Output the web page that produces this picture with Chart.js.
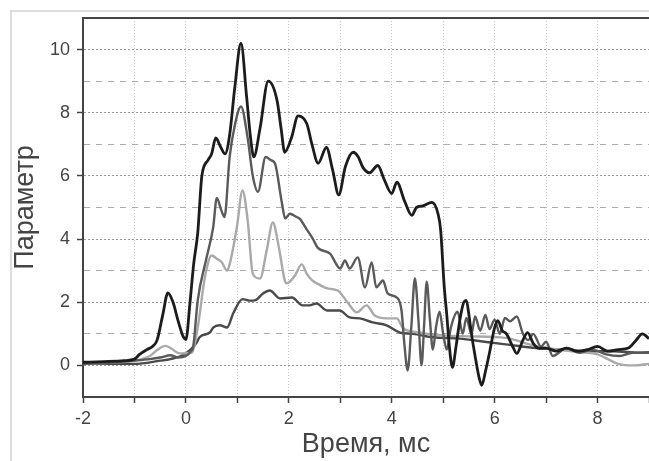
<!DOCTYPE html>
<html>
<head>
<meta charset="utf-8">
<script src="https://cdn.jsdelivr.net/npm/chart.js@4.4.1/dist/chart.umd.min.js"></script>
<style>
    html, body { margin: 0; padding: 0; background: #fff; overflow: hidden; }
    #wrap { position: relative; width: 649px; height: 461px; }
    #frame { position: absolute; left: 10px; top: 10px; width: 639px; height: 451px; box-sizing: border-box;
             border-left: 2px solid #dcdcdc; border-top: 2px solid #dcdcdc; pointer-events: none; }
</style>
</head>
<body>
<div id="wrap">
    <canvas id="signalChart" width="649" height="461"></canvas>
    <div id="frame"></div>
</div>
<script>
// Кривая 1 (чёрная)
const blackX = [-2, -1.6, -1.2, -1.0, -0.9, -0.76, -0.65, -0.56, -0.45, -0.35, -0.25, -0.15, -0.05, 0.0, 0.08, 0.15, 0.23, 0.31, 0.43, 0.5,
    0.58, 0.68, 0.76, 0.85, 0.95, 1.07, 1.18, 1.25, 1.32, 1.44, 1.6, 1.77, 1.85, 1.92, 2.05, 2.18, 2.35, 2.45, 2.57, 2.73,
    2.85, 2.97, 3.1, 3.25, 3.35, 3.44, 3.57, 3.73, 3.85, 4.0, 4.1, 4.25, 4.39, 4.48, 4.6, 4.78, 4.9, 4.95, 5.02, 5.07,
    5.12, 5.18, 5.25, 5.32, 5.4, 5.45, 5.5, 5.55, 5.62, 5.7, 5.75, 5.82, 5.9, 6.0, 6.06, 6.15, 6.23, 6.35, 6.43, 6.55,
    6.64, 6.75, 6.87, 7.0, 7.2, 7.4, 7.6, 7.8, 8.0, 8.2, 8.4, 8.6, 8.75, 8.87, 9.0];
const blackY = [0.1, 0.12, 0.15, 0.2, 0.35, 0.5, 0.6, 0.8, 1.6, 2.3, 2.0, 1.4, 0.9, 0.82, 2.0, 3.2, 4.2, 6.0, 6.5, 6.7,
    7.2, 6.9, 6.7, 7.3, 8.8, 10.2, 8.5, 7.3, 6.6, 7.5, 9.0, 8.4, 7.5, 6.75, 7.2, 7.9, 7.65, 7.0, 6.4, 6.9,
    6.2, 5.4, 6.3, 6.75, 6.6, 6.27, 6.1, 6.33, 5.9, 5.44, 5.8, 5.2, 4.75, 5.0, 5.05, 5.16, 4.8, 4.3, 2.5, 1.6,
    0.6, -0.06, 0.6, 1.4, 2.0, 2.06, 1.6, 1.0, 0.3, -0.4, -0.63, -0.2, 0.4, 1.2, 1.42, 1.1, 1.0, 0.6, 0.38, 0.8,
    1.04, 0.7, 0.54, 0.55, 0.45, 0.55, 0.45, 0.5, 0.6, 0.45, 0.5, 0.55, 0.8, 1.0, 0.85];

// Кривая 2 (тёмно-серая)
const grayX = [-2, -1.5, -1.0, -0.7, -0.5, -0.3, -0.15, 0.0, 0.1, 0.14, 0.23, 0.4, 0.53, 0.6, 0.69, 0.75, 0.85, 0.95, 1.07, 1.2,
    1.3, 1.4, 1.55, 1.65, 1.73, 1.86, 1.93, 2.02, 2.15, 2.21, 2.35, 2.47, 2.56, 2.8, 3.0, 3.09, 3.18, 3.34, 3.48, 3.61,
    3.7, 3.83, 3.92, 4.1, 4.19, 4.25, 4.31, 4.38, 4.45, 4.52, 4.58, 4.63, 4.68, 4.74, 4.8, 4.86, 4.93, 5.0, 5.07, 5.15,
    5.28, 5.38, 5.45, 5.55, 5.62, 5.72, 5.82, 5.9, 6.0, 6.1, 6.2, 6.3, 6.43, 6.55, 6.65, 6.75, 6.9, 7.0, 7.13, 7.4,
    7.65, 7.9, 8.17, 8.43, 8.68, 9.0];
const grayY = [0.05, 0.08, 0.15, 0.2, 0.25, 0.32, 0.25, 0.3, 0.45, 0.57, 2.06, 3.4, 4.37, 5.3, 4.9, 4.7, 6.6, 7.6, 8.2, 7.2,
    6.0, 5.5, 6.6, 6.5, 6.4, 5.2, 4.65, 4.8, 4.7, 4.65, 4.3, 4.0, 3.73, 3.54, 3.07, 3.32, 3.07, 3.42, 2.47, 3.26,
    2.47, 2.69, 2.28, 2.15, 1.74, 0.6, -0.16, 1.2, 2.75, 1.4, 0.0, 1.3, 2.65, 1.5, 0.5, 1.2, 1.7, 1.0, 0.5, 1.2,
    1.7, 1.0, 1.5, 1.0, 1.55, 1.1, 1.6, 1.15, 1.45, 1.0, 1.5, 1.4, 1.55, 1.0, 0.8, 1.0, 0.6, 0.75, 0.3, 0.55,
    0.4, 0.5, 0.35, 0.3, 0.4, 0.4];

// Кривая 3 (светло-серая)
const lightX = [-2, -1.5, -1.0, -0.7, -0.55, -0.4, -0.3, -0.12, 0.12, 0.23, 0.37, 0.5, 0.6, 0.7, 0.8, 0.85, 0.99, 1.1, 1.2, 1.3,
    1.44, 1.57, 1.69, 1.8, 1.92, 1.96, 2.12, 2.25, 2.35, 2.45, 2.6, 2.74, 2.95, 3.14, 3.32, 3.51, 3.67, 3.9, 4.1, 4.21,
    4.5, 5.0, 5.5, 6.0, 6.3, 6.6, 7.0, 7.5, 8.0, 8.2, 8.4, 8.7, 9.0];
const lightY = [0.05, 0.08, 0.15, 0.3, 0.5, 0.62, 0.55, 0.38, 0.41, 1.2, 2.8, 3.48, 3.38, 3.26, 3.0, 3.2, 4.37, 5.54, 4.6, 2.9,
    2.75, 3.64, 4.53, 3.8, 2.7, 2.6, 2.85, 3.2, 2.9, 2.7, 2.55, 2.44, 2.37, 2.0, 1.68, 1.9, 1.58, 1.49, 1.49, 1.2,
    1.05, 0.95, 0.92, 0.9, 0.85, 0.7, 0.55, 0.45, 0.35, 0.2, 0.05, 0.0, 0.05];

// Кривая 4 (нижняя)
const lowX = [-2, -1.5, -1.0, -0.5, -0.3, 0.0, 0.2, 0.27, 0.47, 0.53, 0.66, 0.8, 0.92, 1.1, 1.24, 1.34, 1.5, 1.63, 1.83, 2.06,
    2.27, 2.4, 2.54, 2.74, 2.99, 3.18, 3.38, 3.63, 3.9, 4.16, 4.41, 4.8, 5.32, 5.8, 6.3, 6.8, 7.3, 7.8, 8.3, 8.8, 9.0];
const lowY = [0.08, 0.05, 0.05, 0.15, 0.2, 0.38, 0.7, 0.9, 1.05, 1.2, 1.27, 1.2, 1.65, 2.1, 2.05, 2.06, 2.28, 2.37, 2.12, 2.15,
    1.9, 1.9, 1.96, 1.74, 1.74, 1.52, 1.49, 1.36, 1.27, 1.04, 1.0, 0.89, 0.85, 0.75, 0.65, 0.55, 0.5, 0.45, 0.45, 0.4, 0.42];

const xLimits = [-2, 9];
const yLimits = [-1, 11];

const fontFamily = '"Liberation Sans", Arial, sans-serif';

function toPoints(xs, ys) {
    return xs.map((x, i) => ({ x: x, y: ys[i] }));
}

const ctx = document.getElementById('signalChart');

new Chart(ctx, {
    type: 'line',
    data: {
        datasets: [
            { data: toPoints(blackX, blackY), borderColor: '#1c1c1c', borderWidth: 2.8 },
            { data: toPoints(grayX, grayY), borderColor: '#5a5a5a', borderWidth: 2.4 },
            { data: toPoints(lightX, lightY), borderColor: '#a9a9a9', borderWidth: 2.4 },
            { data: toPoints(lowX, lowY), borderColor: '#4a4a4a', borderWidth: 2.4 }
        ]
    },
    options: {
        responsive: false,
        animation: false,
        elements: {
            point: { radius: 0 },
            line: { cubicInterpolationMode: 'monotone', fill: false }
        },
        layout: { padding: { top: 18, left: 0, right: 0, bottom: 0 } },
        plugins: {
            legend: { display: false },
            tooltip: { enabled: false }
        },
        scales: {
            x: {
                type: 'linear',
                min: xLimits[0],
                max: xLimits[1],
                afterFit: function (scale) {
                    scale.height = 64;
                    scale.paddingLeft = 0;
                    scale.paddingRight = 0;
                },
                ticks: {
                    stepSize: 1,
                    autoSkip: false,
                    maxRotation: 0,
                    padding: 5,
                    color: '#444',
                    font: { family: fontFamily, size: 18 },
                    callback: function (v) { return v % 2 === 0 ? String(v) : ''; }
                },
                grid: {
                    color: '#c8c8c8',
                    lineWidth: 1,
                    tickLength: 6,
                    tickColor: '#444',
                    tickWidth: 1.5
                },
                border: {
                    color: '#444',
                    width: 2,
                    dash: function (c) { return c.tick ? [1, 2] : []; }
                },
                title: {
                    display: true,
                    text: 'Время, мс',
                    color: '#444',
                    font: { family: fontFamily, size: 27 },
                    padding: { top: 0, bottom: 0 }
                }
            },
            y: {
                type: 'linear',
                min: yLimits[0],
                max: yLimits[1],
                afterFit: function (scale) {
                    scale.width = 83;
                    scale.paddingTop = 0;
                    scale.paddingBottom = 0;
                },
                ticks: {
                    stepSize: 1,
                    autoSkip: false,
                    padding: 7,
                    color: '#444',
                    font: { family: fontFamily, size: 18 },
                    callback: function (v) { return (v % 2 === 0 && v >= 0 && v <= 10) ? String(v) : ''; }
                },
                grid: {
                    color: function (c) {
                        if (!c.tick) return '#aaa';
                        if (c.tick.value === yLimits[1]) return '#444';
                        return c.tick.value % 2 === 0 ? '#9a9a9a' : '#ababab';
                    },
                    lineWidth: function (c) {
                        return c.tick && c.tick.value === yLimits[1] ? 2 : 1;
                    },
                    tickLength: 6,
                    tickWidth: 1.5,
                    tickColor: function (c) {
                        return c.tick && c.tick.value % 2 === 0 ? '#444' : 'rgba(0,0,0,0)';
                    }
                },
                border: {
                    color: '#444',
                    width: 2,
                    dash: function (c) {
                        if (!c.tick || c.tick.value === yLimits[1]) return [];
                        return c.tick.value % 2 === 0 ? [2, 2] : [6, 6];
                    }
                },
                title: {
                    display: true,
                    text: 'Параметр',
                    color: '#444',
                    font: { family: fontFamily, size: 27 },
                    padding: { top: 9, bottom: 0 }
                }
            }
        }
    }
});
</script>
</body>
</html>
